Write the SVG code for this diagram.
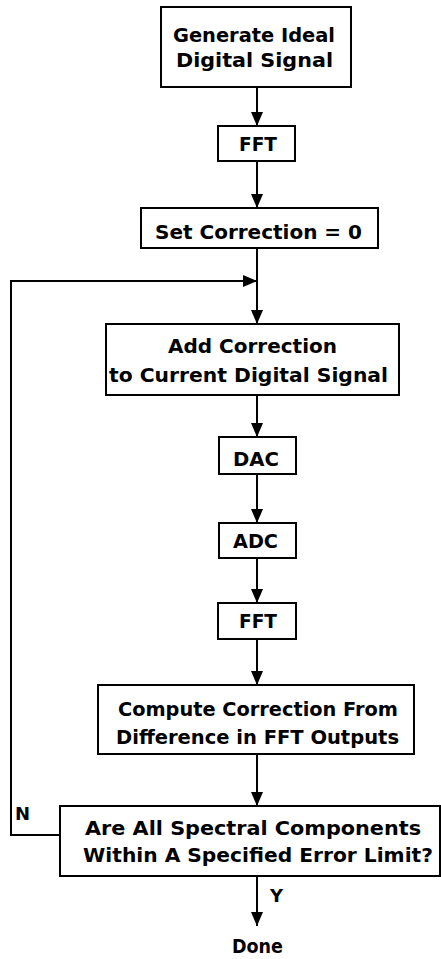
<svg xmlns="http://www.w3.org/2000/svg" width="441" height="959" viewBox="0 0 441 959">
  <style>
    .box { fill: #ffffff; stroke: #000000; stroke-width: 2; }
    .wire { fill: none; stroke: #000000; stroke-width: 2; }
    .label { font-family: "DejaVu Sans", "Liberation Sans", sans-serif; font-weight: bold; font-size: 20px; fill: #000000; }
    .small { font-size: 18px; }
  </style>
  <defs>
    <marker id="arrow" markerUnits="userSpaceOnUse" markerWidth="14" markerHeight="12" refX="14" refY="6" orient="auto">
      <path d="M0,0 L14,6 L0,12 Z" fill="#000000"/>
    </marker>
  </defs>
  <rect width="441" height="959" fill="#ffffff"/>

  <g id="connectors">
    <line class="wire" x1="257" y1="87" x2="257" y2="126" marker-end="url(#arrow)"/>
    <line class="wire" x1="257" y1="161" x2="257" y2="208" marker-end="url(#arrow)"/>
    <line class="wire" x1="257" y1="248" x2="257" y2="324" marker-end="url(#arrow)"/>
    <line class="wire" x1="257" y1="395" x2="257" y2="437" marker-end="url(#arrow)"/>
    <line class="wire" x1="257" y1="474" x2="257" y2="523" marker-end="url(#arrow)"/>
    <line class="wire" x1="257" y1="558" x2="257" y2="603" marker-end="url(#arrow)"/>
    <line class="wire" x1="257" y1="639" x2="257" y2="685" marker-end="url(#arrow)"/>
    <line class="wire" x1="257" y1="754" x2="257" y2="806" marker-end="url(#arrow)"/>
    <line class="wire" x1="257" y1="876" x2="257" y2="926" marker-end="url(#arrow)"/>
    <!-- retry loop from the decision back above the add step -->
    <polyline class="wire" points="60,835 11,835 11,281 257,281" marker-end="url(#arrow)"/>
    <text class="label small" x="15" y="820" textLength="13">N</text>
    <text class="label small" x="270" y="902" textLength="12">Y</text>
  </g>

  <g id="generate">
    <rect class="box" x="161" y="7" width="190" height="80"/>
    <text class="label" x="173" y="42" textLength="162" lengthAdjust="spacingAndGlyphs">Generate Ideal</text>
    <text class="label" x="176" y="67" textLength="157" lengthAdjust="spacingAndGlyphs">Digital Signal</text>
  </g>

  <g id="fft1">
    <rect class="box" x="218" y="126" width="77" height="35"/>
    <text class="label" x="239" y="151" textLength="38" lengthAdjust="spacingAndGlyphs">FFT</text>
  </g>

  <g id="set-correction">
    <rect class="box" x="141" y="208" width="237" height="40"/>
    <text class="label" x="155" y="239" textLength="207" lengthAdjust="spacingAndGlyphs">Set Correction = 0</text>
  </g>

  <g id="add-correction">
    <rect class="box" x="106" y="324" width="293" height="71"/>
    <text class="label" x="168" y="353" textLength="169" lengthAdjust="spacingAndGlyphs">Add Correction</text>
    <text class="label" x="109" y="382" textLength="279" lengthAdjust="spacingAndGlyphs">to Current Digital Signal</text>
  </g>

  <g id="dac">
    <rect class="box" x="219" y="437" width="77" height="37"/>
    <text class="label" x="233" y="466" textLength="46" lengthAdjust="spacingAndGlyphs">DAC</text>
  </g>

  <g id="adc">
    <rect class="box" x="219" y="523" width="77" height="35"/>
    <text class="label" x="233" y="548" textLength="45" lengthAdjust="spacingAndGlyphs">ADC</text>
  </g>

  <g id="fft2">
    <rect class="box" x="218" y="603" width="78" height="36"/>
    <text class="label" x="239" y="628" textLength="38" lengthAdjust="spacingAndGlyphs">FFT</text>
  </g>

  <g id="compute">
    <rect class="box" x="98" y="685" width="316" height="69"/>
    <text class="label" x="118" y="716" textLength="280" lengthAdjust="spacingAndGlyphs">Compute Correction From</text>
    <text class="label" x="116" y="744" textLength="283" lengthAdjust="spacingAndGlyphs">Difference in FFT Outputs</text>
  </g>

  <g id="decision">
    <rect class="box" x="60" y="806" width="380" height="70"/>
    <text class="label" x="85" y="835" textLength="336" lengthAdjust="spacingAndGlyphs">Are All Spectral Components</text>
    <text class="label" x="83" y="862" textLength="350" lengthAdjust="spacingAndGlyphs">Within A Specified Error Limit?</text>
  </g>

  <g id="done">
    <text class="label" x="232" y="953" textLength="51" lengthAdjust="spacingAndGlyphs">Done</text>
  </g>
</svg>
